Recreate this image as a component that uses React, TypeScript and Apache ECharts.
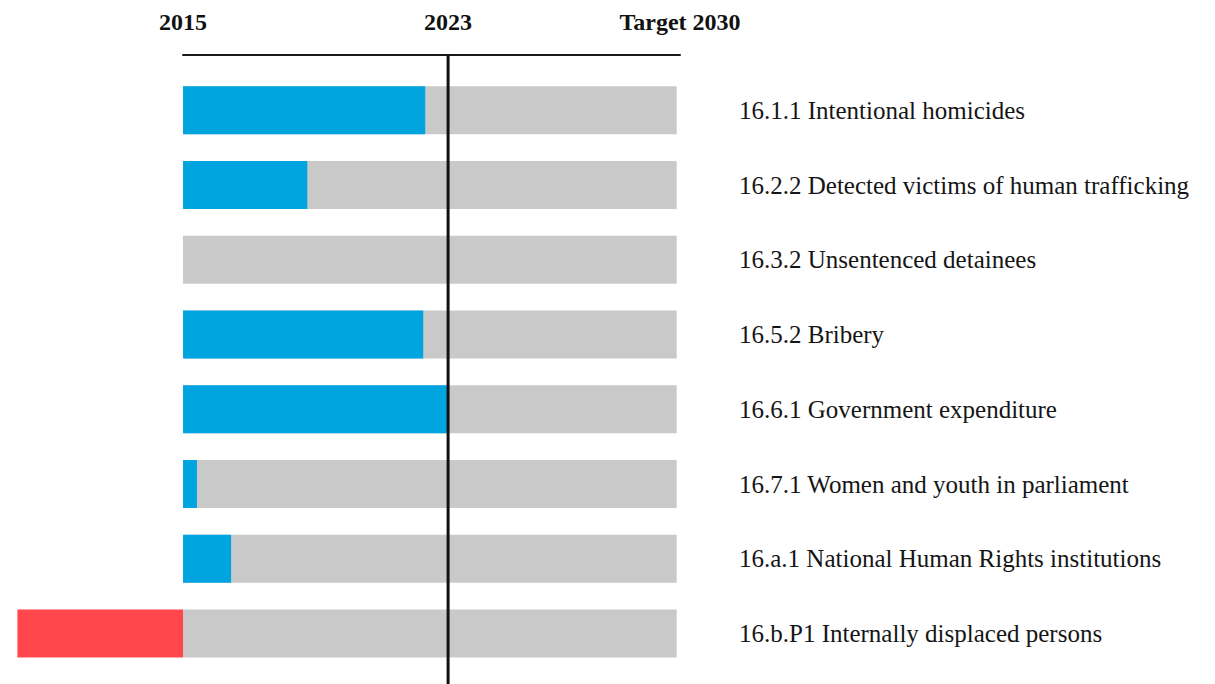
import React, { useEffect, useRef } from "react";
import * as echarts from "echarts";

const categories = [
  "16.1.1 Intentional homicides",
  "16.2.2 Detected victims of human trafficking",
  "16.3.2 Unsentenced detainees",
  "16.5.2 Bribery",
  "16.6.1 Government expenditure",
  "16.7.1 Women and youth in parliament",
  "16.a.1 National Human Rights institutions",
  "16.b.P1 Internally displaced persons",
];
// years of progress since 2015 (track towards 2030)
const targetValues = [14.9, 14.9, 14.9, 14.9, 14.9, 14.9, 14.9, 14.9];
const progressValues = [7.31, 3.75, null, 7.25, 8.0, 0.42, 1.45, null];
const regressValues = [null, null, null, null, null, null, null, -5];

const yearTicks = [0, 8, 15];
const yearLabels = ["2015", "2023", "Target 2030"];
const currentYear = 8;
const minYears = -5;
const maxYears = 15;

export default function App() {
  const ref = useRef<HTMLDivElement>(null);
  useEffect(() => {
    if (!ref.current) return;
    const chart = echarts.init(ref.current, null, { renderer: "svg" });
    const font = "Liberation Serif";
    chart.setOption({
      animation: false,
      textStyle: { fontFamily: font },
      grid: [
        { left: 17.4, right: 535, top: 72.9, bottom: 13.1 },
        { left: 183, right: 535, top: 55, height: 0 },
      ],
      xAxis: [
        { type: "value", gridIndex: 0, min: minYears, max: maxYears, show: false },
        {
          type: "value",
          gridIndex: 1,
          position: "top",
          min: 0,
          max: maxYears,
          axisLine: { show: true, onZero: false, lineStyle: { color: "#1a1a1a", width: 2 } },
          axisTick: { show: false },
          splitLine: { show: false },
          axisLabel: {
            customValues: yearTicks,
            formatter: (v: number) => yearLabels[yearTicks.indexOf(v)] ?? "",
            margin: 33,
            verticalAlign: "middle",
            fontFamily: font,
            fontWeight: "bold",
            fontSize: 24,
            color: "#111",
            showMinLabel: true,
            showMaxLabel: true,
          },
        },
      ],
      yAxis: [
        {
          type: "category",
          gridIndex: 0,
          data: categories,
          inverse: true,
          position: "right",
          axisLine: { show: false },
          axisTick: { show: false },
          splitLine: { show: false },
          axisLabel: {
            margin: 59,
            fontFamily: font,
            fontSize: 25,
            color: "#151515",
          },
        },
        { type: "value", gridIndex: 1, show: false },
      ],
      series: [
        {
          type: "bar",
          data: targetValues,
          barWidth: 48,
          barGap: "-100%",
          itemStyle: { color: "#C9C9C9" },
          silent: true,
        },
        {
          type: "bar",
          data: progressValues,
          barWidth: 48,
          barGap: "-100%",
          itemStyle: { color: "#00A5DF" },
        },
        {
          type: "bar",
          data: regressValues,
          barWidth: 48,
          barGap: "-100%",
          itemStyle: { color: "#FF474C" },
        },
      ],
    });
    const x = chart.convertToPixel({ xAxisIndex: 0 }, currentYear) as number;
    chart.setOption({
      graphic: [
        {
          type: "line",
          shape: { x1: x, y1: 55, x2: x, y2: 684 },
          style: { stroke: "#111", lineWidth: 3 },
          z: 100,
        },
      ],
    });
    return () => chart.dispose();
  }, []);
  return (
    <div
      ref={ref}
      style={{ position: "absolute", left: 0, top: 0, width: 1215, height: 684, background: "#fff" }}
    />
  );
}
